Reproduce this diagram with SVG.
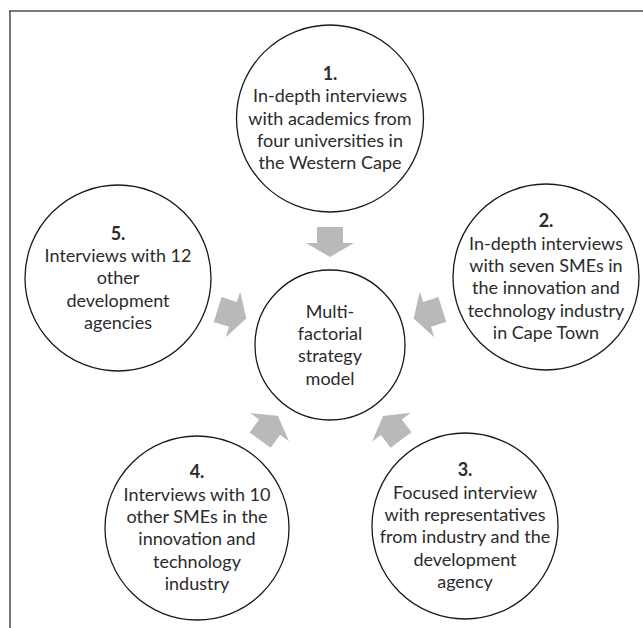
<svg xmlns="http://www.w3.org/2000/svg" width="643" height="628" viewBox="0 0 643 628">
<style>
.c{fill:#fff;stroke:#1a1a1a;stroke-width:1.3}
.t{font-family:Lato,"Open Sans","Liberation Sans",sans-serif;font-size:18px;fill:#2b2b2b;text-anchor:middle}
.b{font-weight:bold}
.a{fill:#b9b9b9}
</style>
<defs>
<polygon id="arr" points="-15,-13 1,-13 1,-24 15,0 1,24 1,13 -15,13"/>
</defs>
<rect x="0" y="0" width="643" height="628" fill="#fff"/>
<g id="frame">
<line x1="9" y1="11" x2="643" y2="11" stroke="#7a7a7a" stroke-width="2"/>
<line x1="10" y1="11" x2="10" y2="628" stroke="#222" stroke-width="1.2"/>
</g>
<g id="connectors" class="a">
<use href="#arr" transform="translate(330,242) rotate(90)"/>
<use href="#arr" transform="translate(428,314) rotate(162.5)"/>
<use href="#arr" transform="translate(232,314) rotate(17.5)"/>
<use href="#arr" transform="translate(269,428) rotate(-54)"/>
<use href="#arr" transform="translate(392,428) rotate(-126.7)"/>
</g>
<g id="node1">
<circle class="c" cx="330" cy="118.5" r="93.5"/>
<text class="t"><tspan class="b" x="330" y="80">1.</tspan><tspan x="330" y="102">In-depth interviews</tspan><tspan x="330" y="124.5">with academics from</tspan><tspan x="330" y="147">four universities in</tspan><tspan x="330" y="169">the Western Cape</tspan></text>
</g>
<g id="node2">
<circle class="c" cx="546" cy="277" r="93"/>
<text class="t"><tspan class="b" x="546" y="227">2.</tspan><tspan x="546" y="249.5">In-depth interviews</tspan><tspan x="546" y="272">with seven SMEs in</tspan><tspan x="546" y="294">the innovation and</tspan><tspan x="546" y="316.5">technology industry</tspan><tspan x="546" y="339">in Cape Town</tspan></text>
</g>
<g id="node5">
<circle class="c" cx="118" cy="278" r="93"/>
<text class="t"><tspan class="b" x="118" y="239.5">5.</tspan><tspan x="118" y="262">Interviews with 12</tspan><tspan x="118" y="284">other</tspan><tspan x="118" y="306.5">development</tspan><tspan x="118" y="328.5">agencies</tspan></text>
</g>
<g id="node4">
<circle class="c" cx="197" cy="528" r="92"/>
<text class="t"><tspan class="b" x="197" y="478">4.</tspan><tspan x="197" y="500.5">Interviews with 10</tspan><tspan x="197" y="523">other SMEs in the</tspan><tspan x="197" y="545">innovation and</tspan><tspan x="197" y="567.5">technology</tspan><tspan x="197" y="590">industry</tspan></text>
</g>
<g id="node3">
<circle class="c" cx="465" cy="526" r="93"/>
<text class="t"><tspan class="b" x="465" y="476">3.</tspan><tspan x="465" y="498.5">Focused interview</tspan><tspan x="465" y="521">with representatives</tspan><tspan x="465" y="543">from industry and the</tspan><tspan x="465" y="565.5">development</tspan><tspan x="465" y="588">agency</tspan></text>
</g>
<g id="center">
<circle class="c" cx="330" cy="345" r="75"/>
<text class="t"><tspan x="330" y="317.5">Multi-</tspan><tspan x="330" y="340">factorial</tspan><tspan x="330" y="362">strategy</tspan><tspan x="330" y="384.5">model</tspan></text>
</g>
</svg>
